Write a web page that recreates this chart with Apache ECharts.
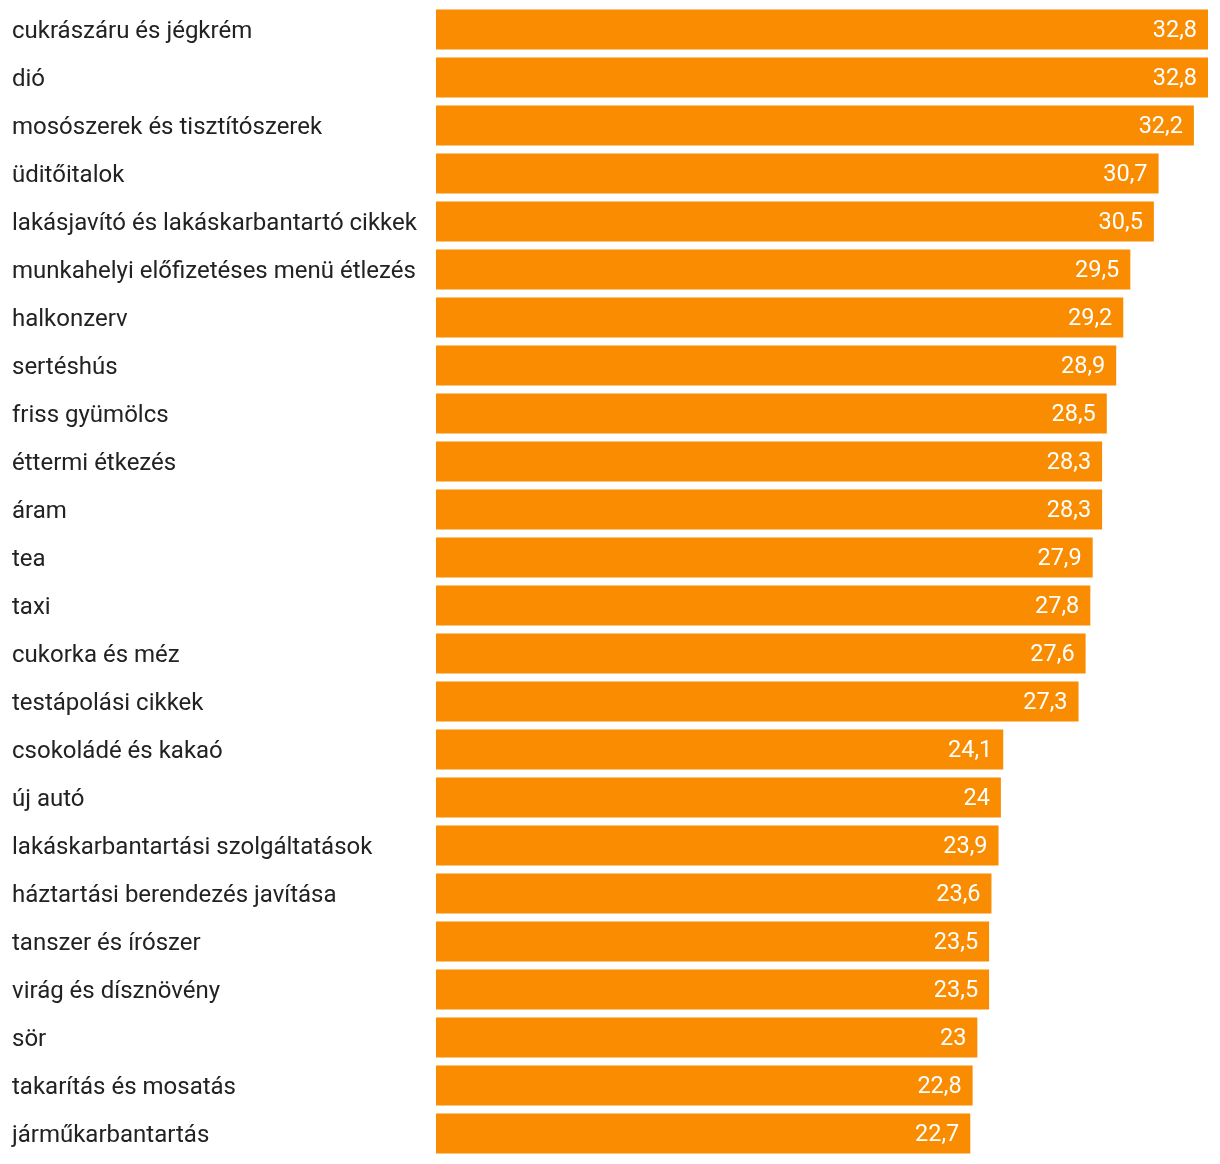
<!DOCTYPE html>
<html><head><meta charset="utf-8">
<script src="https://cdn.jsdelivr.net/npm/echarts@6/dist/echarts.min.js"></script>
<style>html,body{margin:0;padding:0;background:#fff}#c{width:1220px;height:1164px}</style>
</head><body><div id="c"></div>
<script>
const categories = ["cukrászáru és jégkrém","dió","mosószerek és tisztítószerek","üditőitalok","lakásjavító és lakáskarbantartó cikkek","munkahelyi előfizetéses menü étlezés","halkonzerv","sertéshús","friss gyümölcs","éttermi étkezés","áram","tea","taxi","cukorka és méz","testápolási cikkek","csokoládé és kakaó","új autó","lakáskarbantartási szolgáltatások","háztartási berendezés javítása","tanszer és írószer","virág és dísznövény","sör","takarítás és mosatás","járműkarbantartás"];
const values = [32.8,32.8,32.2,30.7,30.5,29.5,29.2,28.9,28.5,28.3,28.3,27.9,27.8,27.6,27.3,24.1,24,23.9,23.6,23.5,23.5,23,22.8,22.7];
const chart = echarts.init(document.getElementById('c'));
chart.setOption({
  animation:false,
  grid:{left:436,right:12,top:5.5,bottom:6.5,containLabel:false},
  xAxis:{type:'value',min:0,max:32.8,show:false},
  yAxis:{type:'category',data:categories,inverse:true,
    axisLine:{show:false},axisTick:{show:false},
    axisLabel:{align:'left',margin:424,fontFamily:'Roboto',fontSize:24,color:'#222',
      formatter:v=>'{a|'+v+'}',
      rich:{a:{fontFamily:'Roboto',fontSize:24,color:'#222',padding:[4,0,0,0]}}}},
  series:[{type:'bar',data:values,barCategoryGap:'16.7%',
    itemStyle:{color:'#F98C00'},
    label:{show:true,position:'insideRight',distance:11,offset:[0,2],color:'#fff',fontFamily:'Roboto',fontSize:23.5,
      formatter:p=>String(p.value).replace('.',',')}}]
});
</script></body></html>
